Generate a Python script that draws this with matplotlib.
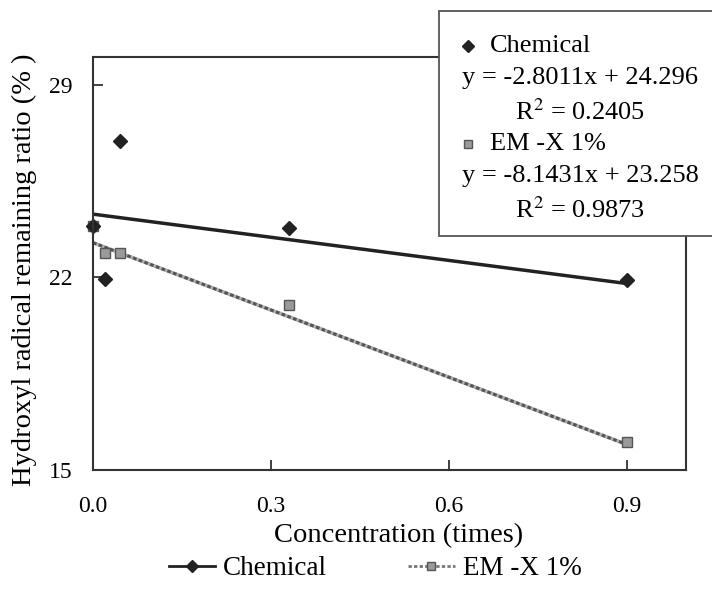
import matplotlib
matplotlib.use("Agg")
import matplotlib.pyplot as plt
from matplotlib.lines import Line2D
from matplotlib.patches import Rectangle

plt.rcParams['font.family'] = ['Liberation Serif', 'DejaVu Serif']
plt.rcParams['mathtext.fontset'] = 'stix'

# data
conc = [0.0, 0.02, 0.045, 0.33, 0.9]
chemical = [23.85, 21.95, 26.97, 23.8, 21.9]
em_x = [0.0, 0.02, 0.045, 0.33, 0.9]
em = [23.85, 22.9, 22.9, 21.0, 16.0]

# trendline coefficients as printed on the chart
chem_slope, chem_icpt, chem_r2 = -2.8011, 24.296, 0.2405
em_slope, em_icpt, em_r2 = -8.1431, 23.258, 0.9873
fit_x = [0.0, 0.9]

xticks = [0.0, 0.3, 0.6, 0.9]
yticks = [15, 22, 29]

fig = plt.figure(figsize=(7.12, 5.89), dpi=100)
ax = fig.add_axes([0.1306, 0.202, 0.833, 0.701])

chem_fit = [chem_slope * x + chem_icpt for x in fit_x]
em_fit = [em_slope * x + em_icpt for x in fit_x]

ax.plot(fit_x, chem_fit, color='#222222', lw=2.5, solid_capstyle='butt')
ax.plot(fit_x, em_fit, color='#b0b0b0', lw=2.6, solid_capstyle='butt')
ax.plot(fit_x, em_fit, color='#555555', lw=2.2, ls=(0, (1.2, 0.8)))

ax.plot(em_x, em, ls='none', marker='s', ms=7, mfc='#9a9a9a', mec='#555555', mew=1.0, clip_on=False)
ax.plot(conc, chemical, ls='none', marker='D', ms=7, mfc='#222222', mec='#222222', clip_on=False)

ax.set_xlim(0, 1.0)
ax.set_ylim(15, 30)
ax.set_xticks(xticks)
ax.set_xticklabels(['%.1f' % t for t in xticks])
ax.set_yticks(yticks)
ax.tick_params(direction='in', length=7, width=1.3, color='#333333', labelsize=17)
ax.tick_params(axis='x', pad=19)
ax.tick_params(axis='y', pad=15)
for s in ax.spines.values():
    s.set_color('#333333')
    s.set_linewidth(1.5)

ax.set_xlabel('Concentration (times)', fontsize=20.5)
ax.xaxis.set_label_coords(0.516, -0.128)
ax.set_ylabel('Hydroxyl radical remaining ratio (% )', fontsize=20.5)
ax.yaxis.set_label_coords(-0.094, 0.485)

# legend below the axes
handles = [
    Line2D([], [], color='#222222', lw=2.0, marker='D', ms=6, mfc='#222222', mec='#222222'),
    Line2D([], [], color='#777777', lw=2.0, ls=(0, (1.2, 0.8)), marker='s', ms=6, mfc='#9a9a9a', mec='#555555'),
]
fig.legend(handles, ['Chemical', 'EM -X 1%'], loc='center', bbox_to_anchor=(0.527, 0.034),
           ncol=2, frameon=False, fontsize=19.5, handlelength=1.7, handletextpad=0.3,
           columnspacing=3.0)

# trendline box in the upper right
box = Rectangle((0.6166, 0.6), 0.4, 0.381, transform=fig.transFigure,
                facecolor='white', edgecolor='#555555', lw=1.3, zorder=5)
fig.add_artist(box)

def fy(py):
    return 1 - py / 589.0

def fx(px):
    return px / 712.0

rows = [
    ('Chemical', 'D', '#222222', '#222222', chem_slope, chem_icpt, chem_r2, 46),
    ('EM -X 1%', 's', '#9a9a9a', '#555555', em_slope, em_icpt, em_r2, 144),
]
for name, mk, fc, ec, slope, icpt, r2, top in rows:
    fig.add_artist(Line2D([fx(468)], [fy(top)], marker=mk, ms=6, mfc=fc, mec=ec,
                          transform=fig.transFigure, zorder=6))
    fig.text(fx(490), fy(top), name, fontsize=19, va='center', ha='left', zorder=6)
    fig.text(fx(580), fy(top + 32), 'y = %.4fx + %.3f' % (slope, icpt),
             fontsize=19, va='center', ha='center', zorder=6)
    fig.text(fx(580), fy(top + 66), 'R$^2$ = %.4f' % r2,
             fontsize=19, va='center', ha='center', zorder=6)

fig.savefig('out.png', dpi=100)
